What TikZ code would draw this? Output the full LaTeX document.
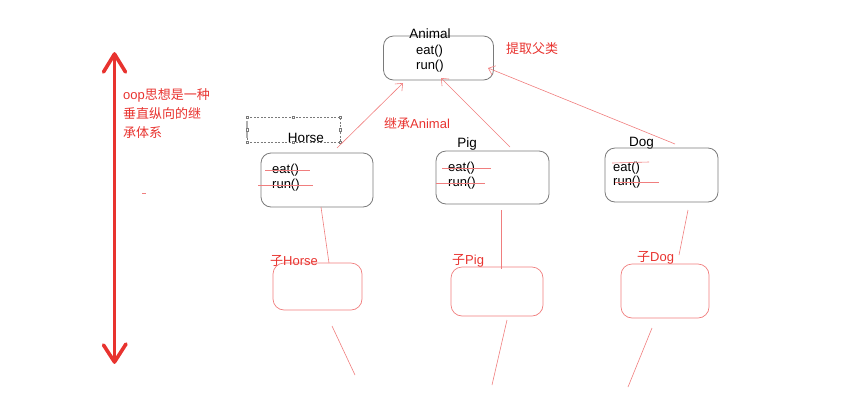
\documentclass[tikz,border=0pt]{standalone}
\usepackage{fontspec}
\setmainfont{Liberation Sans}
\newfontfamily\cjk{Noto Sans CJK SC}
\usetikzlibrary{arrows.meta}
\definecolor{redtext}{HTML}{E8332F}
\definecolor{redline}{HTML}{F07E7E}
\definecolor{boxgray}{HTML}{7A7A7A}
\tikzset{
  classbox/.style={draw=boxgray, line width=0.8pt, rounded corners=10pt, inner sep=0pt},
  childbox/.style={draw=redline, line width=0.7pt, rounded corners=11pt, inner sep=0pt},
  lbl/.style={inner sep=0pt, font=\fontsize{13.5}{15}\selectfont, text=black},
  meth/.style={inner sep=0pt, anchor=base west, font=\fontsize{13}{15}\selectfont, text=black},
  rtxt/.style={inner sep=0pt, anchor=west, font=\fontsize{13}{15}\selectfont, text=redtext},
  thin red/.style={draw=redline, line width=0.6pt},
  inherit/.style={draw=redline, line width=0.6pt, -{Straight Barb[length=6pt,width=10pt]}},
  handle/.style={draw=boxgray, fill=white, line width=0.4pt, minimum size=2.4pt, inner sep=0pt},
  bigarrow/.style={draw=redtext, line width=3.6pt, line cap=round, line join=round},
}
\begin{document}
\begin{tikzpicture}[x=1pt,y=-1pt]
\useasboundingbox (0,0) rectangle (861,413);
% big vertical arrow
\coordinate (vtop) at (114.5,54);
\coordinate (vbot) at (114.5,362);
\draw[bigarrow] (vtop) -- (vbot);
\draw[bigarrow] (103.5,72) -- (vtop) -- (125.5,72);
\draw[bigarrow] (103.5,345) -- (vbot) -- (126,344);
\node[rtxt] (oop1) at (123,95) {oop{\cjk 思想是一种}};
\node[rtxt] (oop2) at (123,114) {\cjk 垂直纵向的继};
\node[rtxt] (oop3) at (123,133) {\cjk 承体系};
\coordinate (d1) at (142,193); \coordinate (d2) at (146,193);
\draw[thin red] (d1) -- (d2);

% Animal
\node[classbox, minimum width=110pt, minimum height=44pt] (animal) at (438.5,58) {};
\node[lbl, anchor=base] (animallbl) at (430,38) {Animal};
\node[meth] (aeat) at (416,54.5) {eat()};
\node[meth] (arun) at (416,69.5) {run()};
\node[rtxt] (tiqu) at (506,49) {\cjk 提取父类};
\node[rtxt] (jicheng) at (384,123) {{\cjk 继承}Animal};

% Horse
\draw[boxgray, line width=0.5pt, dash pattern=on 2pt off 1.5pt] (247,117) rectangle (340,142);
\draw[boxgray!60, line width=1.5pt] (247,121) -- (247,138);
\foreach \p in {(247,117),(293,117),(340,117),(247,129.5),(340,129.5),(247,142),(293,142),(340,142)}
  \node[handle] at \p {};
\node[lbl, anchor=base] (horselbl) at (306,142) {Horse};
\node[classbox, minimum width=112pt, minimum height=54pt] (horse) at (317,180) {};
\node[meth] (heat) at (272,173.5) {eat()};
\node[meth] (hrun) at (272,188.5) {run()};
\draw[thin red] (265,170) -- (310,170);
\draw[thin red] (258,185) -- (313,185);

% Pig
\node[lbl, anchor=base] (piglbl) at (467,147) {Pig};
\node[classbox, minimum width=113pt, minimum height=53pt] (pig) at (492.5,177.5) {};
\node[meth] (peat) at (448,171) {eat()};
\node[meth] (prun) at (448,186.5) {run()};
\draw[thin red] (442,168) -- (491,168);
\draw[thin red] (436,183) -- (485,183);

% Dog
\node[lbl, anchor=base] (doglbl) at (641.5,146.5) {Dog};
\node[classbox, minimum width=113pt, minimum height=54pt] (dog) at (661.5,175) {};
\node[meth] (deat) at (613,171) {eat()};
\node[meth] (drun) at (613,185.5) {run()};
\draw[thin red] (612,163) -- (649,162);
\draw[thin red] (615,182) -- (659,182);

% inheritance arrows
\coordinate (hs) at (337,148); \coordinate (he) at (403,83);
\coordinate (ps) at (510,147); \coordinate (pe) at (441,78);
\coordinate (ds) at (675,144); \coordinate (de) at (488,68);
\draw[inherit] (hs) -- (he);
\draw[inherit] (ps) -- (pe);
\draw[inherit] (ds) -- (de);

% children
\node[childbox, minimum width=89pt, minimum height=47pt] (chorse) at (317.5,286.5) {};
\node[childbox, minimum width=92pt, minimum height=49pt] (cpig) at (497,291.5) {};
\node[childbox, minimum width=88pt, minimum height=54pt] (cdog) at (665,291) {};
\node[rtxt] (chorselbl) at (270,260.5) {{\cjk 子}Horse};
\node[rtxt] (cpiglbl) at (452,260.5) {{\cjk 子}Pig};
\node[rtxt] (cdoglbl) at (637,258) {{\cjk 子}Dog};

\coordinate (h1) at (321,207); \coordinate (h2) at (329,263);
\coordinate (p1) at (501,210); \coordinate (p2) at (501,269);
\coordinate (g1) at (688,210); \coordinate (g2) at (679,255);
\draw[thin red] (h1) -- (h2);
\draw[thin red] (p1) -- (p2);
\draw[thin red] (g1) -- (g2);
\coordinate (h3) at (332,326); \coordinate (h4) at (355,375);
\coordinate (p3) at (507,320); \coordinate (p4) at (492,385);
\coordinate (g3) at (652,328); \coordinate (g4) at (628,387);
\draw[thin red] (h3) -- (h4);
\draw[thin red] (p3) -- (p4);
\draw[thin red] (g3) -- (g4);
\end{tikzpicture}
\end{document}
